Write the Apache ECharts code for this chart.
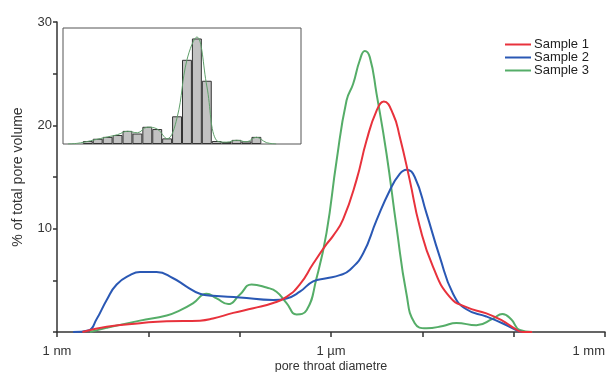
<!DOCTYPE html>
<html>
<head>
<meta charset="utf-8">
<script src="https://cdn.jsdelivr.net/npm/echarts@6/dist/echarts.min.js"></script>
<style>
  html, body { margin: 0; padding: 0; background: #fff; }
  #chart { width: 613px; height: 372px; }
</style>
</head>
<body>
<div id="chart"></div>
<script>
// pore throat diameter in nm, % of total pore volume
const sample1 = [
  [1.9, 0], [3.5, 0.5], [8.1, 0.85], [15.9, 1.05], [36.7, 1.1], [51, 1.3], [85, 1.85],
  [141, 2.3], [233, 2.8], [326, 3.4], [456, 4.6], [637, 6.6], [893, 8.5], [1054, 9.3],
  [1356, 10.9], [1900, 14.7], [2445, 18.5], [3150, 21.4], [3784, 22.3], [4780, 21.1],
  [5660, 18.9], [7280, 14.7], [9370, 10.2], [13100, 6.3], [19940, 3.4], [30360, 2.4],
  [50230, 1.8], [75170, 1.1], [100000, 0.4], [126500, 0], [160000, 0]
];
const sample2 = [
  [1.5, 0], [2.2, 0.15], [2.7, 1.2], [3.5, 3.1], [4.5, 4.6], [6.3, 5.5], [8.1, 5.8],
  [12.3, 5.8], [18.7, 5.2], [26.2, 4.4], [36.7, 3.7], [51, 3.5], [100, 3.35], [233, 3.1],
  [326, 3.25], [456, 3.9], [637, 4.9], [893, 5.2], [1248, 5.5], [1607, 6.0], [2246, 7.6],
  [3148, 10.8], [4399, 13.7], [5662, 15.3], [6699, 15.7], [8260, 15.0], [11090, 11.5],
  [15490, 7.3], [21680, 3.7], [30360, 2.2], [50230, 1.5], [75170, 0.85], [100000, 0.3],
  [126500, 0], [160000, 0]
];
const sample3 = [
  [2.3, 0], [3.5, 0.4], [8.1, 1.1], [15.9, 1.6], [22.2, 2.1], [31, 2.8], [43.4, 3.7],
  [55.9, 3.25], [74.8, 2.7], [100, 3.6], [135, 4.6], [197, 4.3], [253, 3.9], [326, 2.8],
  [420, 1.7], [540, 2.1], [694, 5.2], [893, 9.6], [1148, 16.5], [1479, 22.4], [1746, 24],
  [2066, 26.3], [2344, 27.2], [2659, 26.6], [3148, 23.1], [4047, 17.3], [5208, 10.2],
  [6699, 3.7], [8260, 0.84], [11090, 0.36], [16830, 0.58], [23600, 0.88], [39070, 0.65],
  [59410, 1.3], [75170, 1.75], [94400, 1.2], [116400, 0.2], [161400, 0]
];

const seriesNames = ['Sample 1', 'Sample 2', 'Sample 3'];
const seriesColors = ['#e8323c', '#2a58b4', '#55ad68'];

// x tick labels (only decades that carry a label)
const xTickLabels = { 0: '1 nm', 3: '1 µm', 6: '1 mm' };
const yTickLabels = [10, 20, 30];

// inset histogram (sample 3), 24 bins, first two and last four empty
const insetBins = ['0', '1', '2', '3', '4', '5', '6', '7', '8', '9', '10', '11',
  '12', '13', '14', '15', '16', '17', '18', '19', '20', '21', '22', '23'];
const insetBars = [null, null, 0.8, 1.4, 1.9, 2.4, 3.5, 2.8, 4.6, 4.0, 1.5, 7.4,
  22.5, 28.2, 16.9, 0.8, 0.5, 1.1, 0.7, 1.9, null, null, null, null];
const insetCurve = [0, 0.2, 0.7, 1.3, 1.9, 2.5, 3.4, 3.0, 4.5, 4.0, 1.4, 7.0,
  22.5, 28.6, 15.5, 0.9, 0.5, 1.0, 0.6, 1.8, 0.4, 0, null, null];

const font = 'Liberation Sans, Arial, sans-serif';
const chart = echarts.init(document.getElementById('chart'), null, { renderer: 'canvas' });

const mainSeries = [sample1, sample2, sample3].map((d, i) => ({
  name: seriesNames[i],
  type: 'line',
  xAxisIndex: 0,
  yAxisIndex: 0,
  data: d,
  smooth: 0.5,
  showSymbol: false,
  lineStyle: { color: seriesColors[i], width: 2 },
  itemStyle: { color: seriesColors[i] },
  z: 3 - i
}));

chart.setOption({
  animation: false,
  backgroundColor: '#fff',
  textStyle: { fontFamily: font },
  legend: {
    data: seriesNames,
    orient: 'vertical',
    left: 500,
    top: 33,
    icon: 'rect',
    itemWidth: 26,
    itemHeight: 2,
    itemGap: 0,
    textStyle: { fontSize: 13, color: '#222', fontFamily: font, lineHeight: 12, padding: [0, 0, 0, -2] }
  },
  grid: [
    { left: 57, top: 22, width: 548, height: 310, outerBoundsMode: 'none' },
    { left: 63, top: 28, width: 238, height: 116, show: true, backgroundColor: '#fff',
      borderColor: '#555', borderWidth: 1, z: 5, outerBoundsMode: 'none' }
  ],
  xAxis: [
    {
      type: 'log',
      gridIndex: 0,
      min: 1,
      max: 1e6,
      logBase: 10,
      interval: 1,
      name: 'pore throat diametre',
      nameLocation: 'middle',
      nameGap: 28,
      nameMoveOverlap: false,
      nameTextStyle: { fontSize: 12.5, color: '#333' },
      axisLine: { lineStyle: { color: '#333', width: 1.5 } },
      axisTick: { length: 5, lineStyle: { color: '#333', width: 1.5 } },
      axisLabel: {
        fontSize: 13,
        color: '#333',
        margin: 13,
        alignMaxLabel: 'right',
        formatter: (v) => xTickLabels[Math.round(Math.log10(v))] || ''
      },
      splitLine: { show: false },
      minorTick: { show: false }
    },
    {
      type: 'category',
      gridIndex: 1,
      data: insetBins,
      show: false
    }
  ],
  yAxis: [
    {
      type: 'value',
      gridIndex: 0,
      min: 0,
      max: 30,
      interval: 5,
      name: '% of total pore volume',
      nameLocation: 'middle',
      nameGap: 32,
      nameMoveOverlap: false,
      nameTextStyle: { fontSize: 14, color: '#333' },
      axisLine: { show: true, lineStyle: { color: '#333', width: 1.5 } },
      axisTick: { show: true, length: 4, lineStyle: { color: '#333', width: 1.5 } },
      axisLabel: {
        fontSize: 13,
        color: '#333',
        margin: 5,
        formatter: (v) => (yTickLabels.includes(v) ? String(v) : '')
      },
      splitLine: { show: false }
    },
    {
      type: 'value',
      gridIndex: 1,
      min: 0,
      max: 31,
      show: false,
      splitLine: { show: false }
    }
  ],
  series: [
    ...mainSeries,
    {
      name: 'inset bars',
      type: 'bar',
      xAxisIndex: 1,
      yAxisIndex: 1,
      data: insetBars,
      barWidth: '100%',
      barCategoryGap: '0%',
      itemStyle: { color: '#c2c2c2', borderColor: '#333', borderWidth: 1 },
      z: 6
    },
    {
      name: 'inset curve',
      type: 'line',
      xAxisIndex: 1,
      yAxisIndex: 1,
      data: insetCurve,
      smooth: 0.4,
      showSymbol: false,
      lineStyle: { color: '#5f9f6a', width: 1 },
      z: 7
    }
  ]
});
</script>
</body>
</html>
